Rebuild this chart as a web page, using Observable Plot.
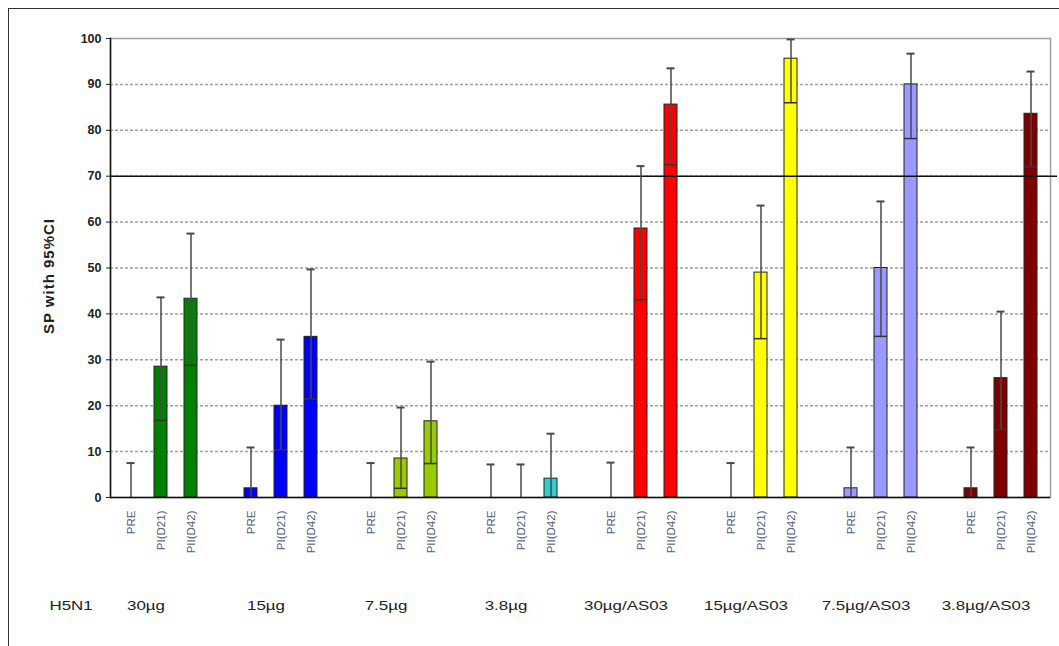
<!DOCTYPE html>
<html>
<head>
<meta charset="utf-8">
<script src="https://cdn.jsdelivr.net/npm/d3@7"></script>
<script src="https://cdn.jsdelivr.net/npm/@observablehq/plot@0.6"></script>
<style>
  html, body { margin: 0; padding: 0; background: #fff; }
  body { width: 1059px; height: 646px; position: relative; overflow: hidden; font-family: "Liberation Sans", Arial, sans-serif; }
  #border { position: absolute; left: 8px; top: 8px; width: 1100px; height: 700px; border: 1.5px solid #333; box-sizing: border-box; }
  #chart { position: absolute; left: 0; top: 0; }
</style>
</head>
<body>
<div id="border"></div>
<div id="chart"></div>
<script>
// ---- data ----
const groups = ["30µg", "15µg", "7.5µg", "3.8µg", "30µg/AS03", "15µg/AS03", "7.5µg/AS03", "3.8µg/AS03"];
const timepoints = ["PRE", "PI(D21)", "PII(D42)"];
const groupColors = ["#008000", "#0000ff", "#99cc00", "#33cccc", "#ff0000", "#ffff00", "#9999ff", "#800000"];
const values = [
  [0, 28.5, 43.3],
  [2, 20, 35],
  [0, 8.5, 16.6],
  [0, 0, 4.1],
  [0, 58.6, 85.6],
  [0, 49, 95.6],
  [2, 50, 90],
  [2, 26, 83.6]
];
const lowerCI = [
  [0, 16.8, 28.8],
  [0, 10.4, 21.5],
  [0, 2, 7.4],
  [0, 0, 0],
  [0, 43.1, 72.5],
  [0, 34.6, 86],
  [0, 35.1, 78.2],
  [0, 14.8, 72]
];
const upperCI = [
  [7.5, 43.6, 57.5],
  [10.9, 34.4, 49.7],
  [7.5, 19.6, 29.6],
  [7.2, 7.2, 13.9],
  [7.6, 72.2, 93.5],
  [7.5, 63.6, 99.8],
  [10.9, 64.5, 96.7],
  [10.9, 40.5, 92.8]
];
const yTicks = [0, 10, 20, 30, 40, 50, 60, 70, 80, 90, 100];
const threshold = 70;
const seriesLabel = "H5N1";
const yLabel = "SP with 95%CI";

// ---- build table ----
const domain = [];
const rows = [];
groups.forEach((g, gi) => {
  timepoints.forEach((t, ti) => {
    const key = gi + "|" + t;
    domain.push(key);
    rows.push({key, group: g, gi, tp: t, value: values[gi][ti], lo: lowerCI[gi][ti], hi: upperCI[gi][ti], color: groupColors[gi]});
  });
  if (gi < groups.length - 1) domain.push("gap" + gi);
});
const tickKeys = domain.filter(d => !d.startsWith("gap"));
const groupLabelRows = groups.map((g, gi) => ({key: gi + "|" + timepoints[1], label: g}));
const seriesLabelRows = [{key: domain[0], label: seriesLabel}];

const chart = Plot.plot({
  width: 1059,
  height: 646,
  marginLeft: 110,
  marginRight: 9,
  marginTop: 38,
  marginBottom: 149,
  style: {fontFamily: "'Liberation Sans', Arial, sans-serif", background: "transparent"},
  x: {domain, paddingInner: 0.57, paddingOuter: 0.35, axis: null},
  y: {domain: [0, 100], axis: null},
  marks: [
    Plot.ruleY(yTicks.filter(d => d > 0 && d < 100), {stroke: "#a0a0a0", strokeWidth: 1.5, strokeDasharray: "3,2"}),
    Plot.frame({stroke: "#a0a0a0", strokeWidth: 1.5}),
    Plot.barY(rows, {x: "key", y: "value", fill: "color", stroke: "#222", strokeWidth: 1}),
    Plot.ruleY([threshold], {stroke: "#111", strokeWidth: 1.5, insetRight: -7}),
    Plot.ruleX(rows, {x: "key", y1: "lo", y2: "hi", stroke: "#4a4a4a", strokeWidth: 1.5}),
    Plot.tickY(rows, {x: "key", y: "hi", stroke: "#4a4a4a", strokeWidth: 2, inset: 2.5}),
    Plot.tickY(rows.filter(d => d.lo > 0), {x: "key", y: "lo", stroke: "#333", strokeWidth: 1.5}),
    Plot.axisY({ticks: yTicks, tickSize: 4, tickPadding: 5, fontSize: 12.5, fontWeight: "bold", color: "#222", label: null}),
    Plot.text([yLabel], {frameAnchor: "left", textAnchor: "middle", text: d => d, rotate: -90, dx: -61, dy: 8, fontSize: 15, fontWeight: "bold", fill: "#222"}),
    Plot.axisX({ticks: tickKeys, tickSize: 0, tickPadding: 13, tickRotate: -90, fontSize: 11.5, color: "#4c5b82",
      tickFormat: d => d.split("|")[1], label: null}),
    Plot.frame({anchor: "left", stroke: "#111", strokeWidth: 1.5}),
    Plot.ruleY([0], {stroke: "#111", strokeWidth: 1.5}),
    Plot.text(groupLabelRows, {x: "key", y: 0, dy: 108, dx: -15, text: "label", fontSize: 13.5, fill: "#222"}),
    Plot.text(seriesLabelRows, {x: "key", y: 0, dy: 108, dx: -60, text: "label", fontSize: 13.5, fill: "#222"})
  ]
});
document.getElementById("chart").appendChild(chart);
const wideSet = new Set([...groups, seriesLabel]);
chart.querySelectorAll("text").forEach(t => {
  if (wideSet.has(t.textContent)) {
    const len = t.getComputedTextLength();
    t.setAttribute("textLength", (len * 1.25).toFixed(1));
    t.setAttribute("lengthAdjust", "spacingAndGlyphs");
  }
  if (t.textContent === yLabel) t.setAttribute("letter-spacing", "1");
});
</script>
</body>
</html>
